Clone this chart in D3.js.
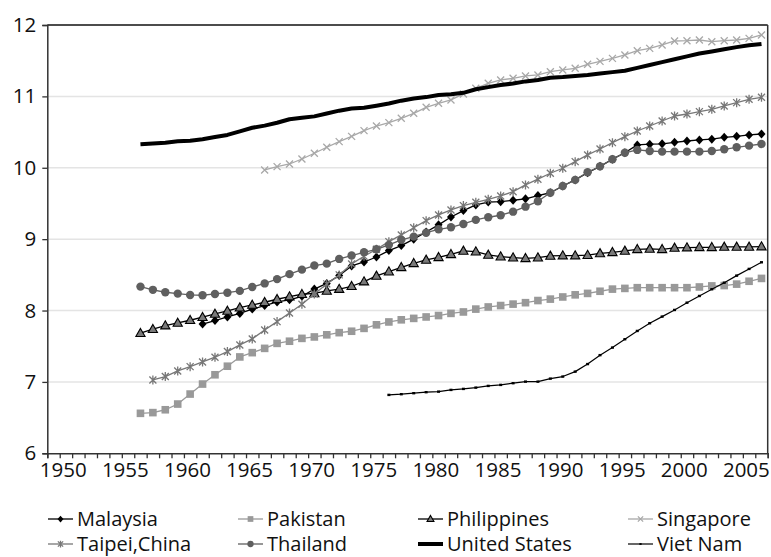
<!DOCTYPE html>
<html>
<head>
<meta charset="utf-8">
<script src="https://cdn.jsdelivr.net/npm/d3@7"></script>
<style>
  html, body { margin: 0; padding: 0; background: #fff; }
  svg { display: block; font-family: "Open Sans", sans-serif; }
</style>
</head>
<body>
<svg id="chart" width="771" height="557"></svg>
<script>
// Log GDP per capita style series, one value per year
const malaysiaStart = 1961;
const malaysia = [7.81, 7.86, 7.91, 7.96, 8.02, 8.07, 8.12, 8.15, 8.20, 8.30,
  8.38, 8.49, 8.625, 8.68, 8.75, 8.84, 8.91, 9.00, 9.10, 9.20,
  9.31, 9.40, 9.48, 9.52, 9.525, 9.545, 9.565, 9.61, 9.65, 9.745,
  9.83, 9.93, 10.02, 10.12, 10.21, 10.32, 10.33, 10.335, 10.357, 10.375,
  10.39, 10.40, 10.427, 10.44, 10.46, 10.473];

const pakistanStart = 1956;
const pakistan = [6.56, 6.57, 6.61, 6.69, 6.83, 6.97, 7.10, 7.22, 7.35, 7.41,
  7.47, 7.54, 7.57, 7.61, 7.63, 7.66, 7.69, 7.71, 7.75, 7.80,
  7.84, 7.87, 7.89, 7.91, 7.93, 7.96, 7.98, 8.02, 8.05, 8.07,
  8.09, 8.11, 8.14, 8.16, 8.19, 8.22, 8.24, 8.27, 8.30, 8.31,
  8.32, 8.32, 8.32, 8.32, 8.32, 8.33, 8.345, 8.35, 8.37, 8.41, 8.45];

const philippinesStart = 1956;
const philippines = [7.682, 7.738, 7.789, 7.826, 7.864, 7.906, 7.952, 7.994, 8.04, 8.078,
  8.116, 8.158, 8.195, 8.228, 8.24, 8.275, 8.30, 8.34, 8.405, 8.485,
  8.545, 8.606, 8.662, 8.709, 8.746, 8.788, 8.835, 8.825, 8.779, 8.755,
  8.741, 8.732, 8.741, 8.765, 8.77, 8.77, 8.776, 8.80, 8.816, 8.835,
  8.858, 8.863, 8.858, 8.877, 8.882, 8.886, 8.886, 8.891, 8.891, 8.891, 8.896];

const singaporeStart = 1966;
const singapore = [9.969, 10.016, 10.053, 10.123, 10.203, 10.287, 10.366, 10.44, 10.52, 10.585,
  10.632, 10.693, 10.763, 10.847, 10.903, 10.95, 11.034, 11.113, 11.183, 11.23,
  11.253, 11.286, 11.30, 11.346, 11.37, 11.393, 11.45, 11.49, 11.533, 11.58,
  11.64, 11.673, 11.72, 11.776, 11.78, 11.79, 11.766, 11.78, 11.79, 11.813, 11.86];

const taipeiStart = 1957;
const taipei = [7.028, 7.075, 7.154, 7.214, 7.28, 7.346, 7.425, 7.518, 7.602,
  7.728, 7.845, 7.966, 8.088, 8.232, 8.373, 8.499, 8.653, 8.76, 8.858,
  8.965, 9.059, 9.16, 9.259, 9.339, 9.409, 9.47, 9.516, 9.558, 9.605,
  9.665, 9.76, 9.84, 9.923, 9.993, 10.086, 10.18, 10.263, 10.352, 10.436,
  10.515, 10.585, 10.655, 10.725, 10.753, 10.786, 10.819, 10.866, 10.912, 10.959, 10.987];

const thailandStart = 1956;
const thailand = [8.335, 8.29, 8.256, 8.237, 8.218, 8.214, 8.232, 8.25, 8.275, 8.33,
  8.38, 8.44, 8.51, 8.573, 8.63, 8.657, 8.723, 8.77, 8.816, 8.858,
  8.92, 8.99, 9.035, 9.09, 9.138, 9.166, 9.213, 9.27, 9.307, 9.335,
  9.385, 9.455, 9.53, 9.65, 9.745, 9.83, 9.937, 10.02, 10.12, 10.21,
  10.25, 10.235, 10.226, 10.226, 10.226, 10.226, 10.235, 10.259, 10.287, 10.31, 10.333];

const unitedStatesStart = 1956;
const unitedStates = [10.33, 10.34, 10.35, 10.37, 10.38, 10.40, 10.43, 10.46, 10.51, 10.56,
  10.59, 10.63, 10.68, 10.70, 10.72, 10.76, 10.80, 10.83, 10.84, 10.87,
  10.90, 10.94, 10.97, 10.99, 11.02, 11.03, 11.05, 11.10, 11.13, 11.16,
  11.18, 11.21, 11.23, 11.26, 11.27, 11.285, 11.30, 11.32, 11.34, 11.36,
  11.40, 11.44, 11.48, 11.52, 11.56, 11.60, 11.63, 11.66, 11.69, 11.715, 11.735];

const vietNamStart = 1976;
const vietNam = [6.818, 6.828, 6.842, 6.856, 6.864, 6.888, 6.902, 6.92, 6.944, 6.958,
  6.982, 7.004, 7.004, 7.046, 7.075, 7.144, 7.25, 7.375, 7.481, 7.598,
  7.714, 7.822, 7.915, 8.008, 8.11, 8.204, 8.298, 8.39, 8.489, 8.583, 8.676];

const yTicks = [6, 7, 8, 9, 10, 11, 12];
const yearLabels = [1950, 1955, 1960, 1965, 1970, 1975, 1980, 1985, 1990, 1995, 2000, 2005];

// Series table built from the arrays above
const series = [
  { name: "Malaysia", start: malaysiaStart, values: malaysia, color: "#000", width: 1.3, marker: "diamond", fill: "#000", mstroke: "#000" },
  { name: "Pakistan", start: pakistanStart, values: pakistan, color: "#9a9a9a", width: 1.3, marker: "square", fill: "#999", mstroke: "#999" },
  { name: "Philippines", start: philippinesStart, values: philippines, color: "#000", width: 1.3, marker: "triangle", fill: "#7a7a7a", mstroke: "#000" },
  { name: "Singapore", start: singaporeStart, values: singapore, color: "#a8a8a8", width: 1.3, marker: "cross", fill: "none", mstroke: "#a8a8a8" },
  { name: "Taipei,China", start: taipeiStart, values: taipei, color: "#777", width: 1.3, marker: "star", fill: "none", mstroke: "#777" },
  { name: "Thailand", start: thailandStart, values: thailand, color: "#5f5f5f", width: 1.3, marker: "circle", fill: "#5f5f5f", mstroke: "#5f5f5f" },
  { name: "United States", start: unitedStatesStart, values: unitedStates, color: "#000", width: 4, marker: "none" },
  { name: "Viet Nam", start: vietNamStart, values: vietNam, color: "#000", width: 1.2, marker: "dash", fill: "#000", mstroke: "#000" }
];

const svg = d3.select("#chart");
const plotLeft = 47.3, plotRight = 767.7, plotTop = 25, plotBottom = 453.3;

const x = d3.scaleLinear().domain([1949, 2007]).range([plotLeft, plotRight]);
const y = d3.scaleLinear().domain([6, 12]).range([plotBottom, plotTop]);

// Horizontal gridlines
svg.append("g")
  .selectAll("line")
  .data(yTicks.filter(v => v > 6 && v < 12))
  .join("line")
  .attr("x1", plotLeft).attr("x2", plotRight)
  .attr("y1", d => y(d)).attr("y2", d => y(d))
  .attr("stroke", "#e4e4e4").attr("stroke-width", 1.5);

// Frame: top and right edges
svg.append("line").attr("x1", plotLeft).attr("x2", plotRight).attr("y1", plotTop).attr("y2", plotTop)
  .attr("stroke", "#111").attr("stroke-width", 1.5);
svg.append("line").attr("x1", plotRight).attr("x2", plotRight).attr("y1", plotTop).attr("y2", plotBottom)
  .attr("stroke", "#333").attr("stroke-width", 1.5);

// Axes
const yAxis = d3.axisLeft(y).tickValues(yTicks).tickSize(5).tickPadding(6).tickFormat(d3.format("d"));
const gy = svg.append("g").attr("transform", `translate(${plotLeft},0)`).call(yAxis);
gy.select(".domain").attr("stroke", "#333").attr("stroke-width", 1.5);
gy.selectAll(".tick line").attr("stroke", "#333").attr("stroke-width", 1.3);
gy.selectAll("text").attr("font-size", 20.5).attr("fill", "#111").attr("font-family", "Open Sans, sans-serif");

const xAxis = d3.axisBottom(x).tickValues(d3.range(1949, 2008)).tickSize(5).tickPadding(4)
  .tickFormat(d => yearLabels.includes(d) ? String(d) : "");
const gx = svg.append("g").attr("transform", `translate(0,${plotBottom})`).call(xAxis);
gx.select(".domain").attr("stroke", "#333").attr("stroke-width", 1.5);
gx.selectAll(".tick line").attr("stroke", "#333").attr("stroke-width", 1.3);
gx.selectAll("text").attr("font-size", 20.5).attr("fill", "#111").attr("dx", 3)
  .attr("font-family", "Open Sans, sans-serif");

// Marker shapes
function drawMarker(g, s, cx, cy, scale) {
  const k = scale || 1;
  switch (s.marker) {
    case "diamond":
      g.append("path").attr("d", `M${cx},${cy - 4.5 * k}L${cx + 4 * k},${cy}L${cx},${cy + 4.5 * k}L${cx - 4 * k},${cy}Z`)
        .attr("fill", s.fill);
      break;
    case "square":
      g.append("rect").attr("x", cx - 3.8 * k).attr("y", cy - 3.8 * k).attr("width", 7.6 * k).attr("height", 7.6 * k)
        .attr("fill", s.fill);
      break;
    case "triangle":
      g.append("path").attr("d", `M${cx},${cy - 4.8 * k}L${cx + 4.6 * k},${cy + 3.3 * k}L${cx - 4.6 * k},${cy + 3.3 * k}Z`)
        .attr("fill", s.fill).attr("stroke", s.mstroke).attr("stroke-width", 1.1);
      break;
    case "circle":
      g.append("circle").attr("cx", cx).attr("cy", cy).attr("r", 4.2 * k).attr("fill", s.fill);
      break;
    case "cross":
      g.append("path").attr("d", `M${cx - 3.5 * k},${cy - 3.5 * k}L${cx + 3.5 * k},${cy + 3.5 * k}M${cx - 3.5 * k},${cy + 3.5 * k}L${cx + 3.5 * k},${cy - 3.5 * k}`)
        .attr("stroke", s.mstroke).attr("stroke-width", 1.3).attr("fill", "none");
      break;
    case "star":
      g.append("path").attr("d", `M${cx - 3.5 * k},${cy - 3.5 * k}L${cx + 3.5 * k},${cy + 3.5 * k}M${cx - 3.5 * k},${cy + 3.5 * k}L${cx + 3.5 * k},${cy - 3.5 * k}M${cx},${cy - 4.5 * k}L${cx},${cy + 4.5 * k}`)
        .attr("stroke", s.mstroke).attr("stroke-width", 1.3).attr("fill", "none");
      break;
    case "dash":
      g.append("rect").attr("x", cx - 1.5 * k).attr("y", cy - 1.2 * k).attr("width", 3 * k).attr("height", 2.4 * k)
        .attr("fill", s.fill);
      break;
  }
}

// Lines and markers
const line = d3.line().x(d => x(d.year + 0.5)).y(d => y(d.value));
const plot = svg.append("g");
series.forEach(s => {
  const pts = s.values.map((v, i) => ({ year: s.start + i, value: v }));
  const g = plot.append("g").attr("class", "series");
  g.append("path").datum(pts).attr("d", line)
    .attr("fill", "none").attr("stroke", s.color).attr("stroke-width", s.width)
    .attr("stroke-linejoin", "round");
  if (s.marker !== "none") {
    pts.forEach(p => drawMarker(g, s, x(p.year + 0.5), y(p.value), 1));
  }
});

// Legend: two rows of four entries, in series order
const legendCols = [48, 238, 418, 628];
const legendRows = [519, 544];
const legend = svg.append("g");
series.forEach((s, i) => {
  const col = i % 4, row = Math.floor(i / 4);
  const lx = legendCols[col], ly = legendRows[row];
  const g = legend.append("g");
  g.append("line").attr("x1", lx).attr("x2", lx + 25).attr("y1", ly).attr("y2", ly)
    .attr("stroke", s.color).attr("stroke-width", s.width);
  if (s.marker !== "none") drawMarker(g, s, lx + 12.5, ly, 0.75);
  g.append("text").attr("x", lx + 29).attr("y", ly + 6.5).attr("font-size", 20)
    .attr("fill", "#111").text(s.name);
});
</script>
</body>
</html>
